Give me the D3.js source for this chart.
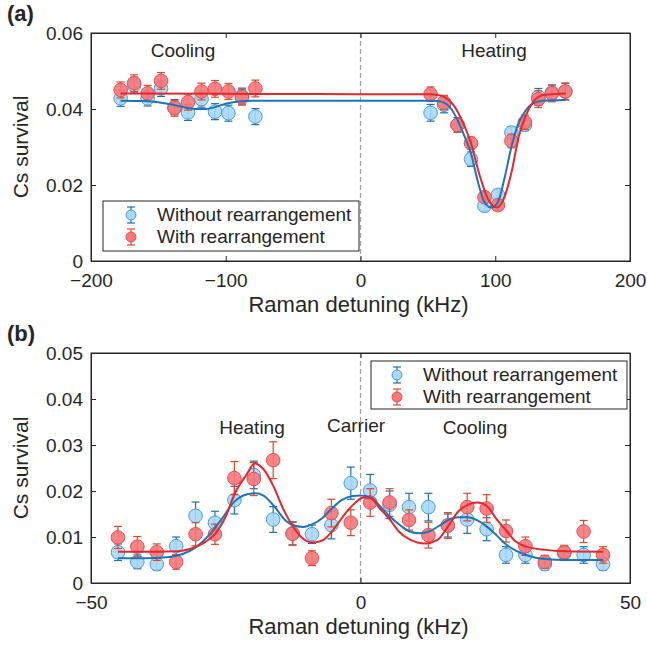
<!DOCTYPE html>
<html>
<head>
<meta charset="utf-8">
<script src="https://cdn.jsdelivr.net/npm/d3@7"></script>
<style>
  body { margin: 0; background: #fff; }
  svg text { font-family: "Liberation Sans", Arial, Helvetica, sans-serif; fill: #262626; }
</style>
</head>
<body>
<script>
// ---- panel (a) data ----
const aDetuning = [-178, -168, -158, -148, -138, -128, -118, -108, -98, -88, -78,
  52, 62, 72, 82, 92, 102, 112, 122, 132, 142, 152];
const aWithout = [0.0428, 0.0463, 0.0428, 0.0454, 0.0405, 0.0391, 0.0426, 0.0393, 0.0389, 0.0434, 0.0380,
  0.0390, 0.0411, 0.0358, 0.0268, 0.0145, 0.0174, 0.0338, 0.0358, 0.0432, 0.0443, 0.0446];
const aWithoutErr = [0.0021, 0.0021, 0.0020, 0.0021, 0.0020, 0.0021, 0.0021, 0.0021, 0.0021, 0.0021, 0.0021,
  0.0022, 0.0021, 0.0019, 0.0019, 0.0013, 0.0013, 0.0015, 0.0015, 0.0022, 0.0020, 0.0022];
const aWith = [0.0450, 0.0468, 0.0441, 0.0474, 0.0402, 0.0418, 0.0446, 0.0453, 0.0446, 0.0431, 0.0454,
  0.0439, 0.0417, 0.0358, 0.0310, 0.0168, 0.0147, 0.0316, 0.0365, 0.0426, 0.0441, 0.0446];
const aWithErr = [0.0021, 0.0022, 0.0021, 0.0022, 0.0021, 0.0021, 0.0022, 0.0022, 0.0021, 0.0021, 0.0022,
  0.0019, 0.0019, 0.0019, 0.0016, 0.0013, 0.0013, 0.0018, 0.0019, 0.0022, 0.0022, 0.0022];
// fit curves
const aFitWithoutX = [-178, -160, -150, -140, -130, -122, -115, -108, -100, -90, -80, -40, 0, 40, 52, 57, 62, 67, 72, 77, 82, 87, 92, 97, 102, 107, 112, 117, 122, 128, 135, 152];
const aFitWithoutY = [0.0422, 0.0421, 0.0418, 0.0412, 0.0404, 0.0400, 0.0400, 0.0405, 0.0414, 0.0420, 0.0422, 0.0422, 0.0422, 0.0422, 0.0422, 0.0421, 0.0417, 0.0402, 0.0371, 0.0330, 0.0283, 0.0210, 0.0155, 0.0141, 0.0155, 0.0220, 0.0300, 0.0360, 0.0393, 0.0415, 0.0422, 0.0424];
const aFitWithX = [-178, -100, 0, 52, 57, 62, 68.9, 76.3, 82, 88.7, 94.9, 101.1, 106, 112.4, 117.4, 122.3, 128.2, 135.7, 152.3];
const aFitWithY = [0.0441, 0.0440, 0.0439, 0.0439, 0.0437, 0.0432, 0.0411, 0.0362, 0.0310, 0.0222, 0.0161, 0.0141, 0.0161, 0.0239, 0.0327, 0.0380, 0.0419, 0.0437, 0.0441];
const aXTicks = [-200, -100, 0, 100, 200];
const aYTicks = [0, 0.02, 0.04, 0.06];

// ---- panel (b) data ----
const bDetuning = [-45, -41.4, -37.8, -34.2, -30.6, -27, -23.4, -19.8, -16.2, -12.6, -9, -5.4, -1.8,
  1.8, 5.4, 9, 12.6, 16.2, 19.8, 23.4, 27, 30.6, 34.2, 37.8, 41.4, 45];
const bWithout = [0.0067, 0.0046, 0.0041, 0.0080, 0.0146, 0.0131, 0.0180, 0.0235, 0.0138, 0.0108, 0.0106, 0.0126, 0.0217,
  0.0201, 0.0170, 0.0165, 0.0165, 0.0125, 0.0138, 0.0117, 0.0061, 0.0061, 0.0041, 0.0064, 0.0061, 0.0041];
const bWithoutErr = [0.0018, 0.0015, 0.0013, 0.0020, 0.0030, 0.0025, 0.0030, 0.0030, 0.0028, 0.0025, 0.0020, 0.0030, 0.0035,
  0.0035, 0.0030, 0.0030, 0.0030, 0.0025, 0.0030, 0.0025, 0.0018, 0.0018, 0.0013, 0.0015, 0.0018, 0.0013];
const bWith = [0.0099, 0.0079, 0.0067, 0.0046, 0.0106, 0.0106, 0.0228, 0.0226, 0.0267, 0.0107, 0.0054, 0.0152, 0.0131,
  0.0175, 0.0175, 0.0137, 0.0104, 0.0125, 0.0165, 0.0162, 0.0113, 0.0080, 0.0046, 0.0067, 0.0112, 0.0061];
const bWithErr = [0.0024, 0.0022, 0.0018, 0.0016, 0.0025, 0.0022, 0.0036, 0.0036, 0.0040, 0.0025, 0.0016, 0.0030, 0.0028,
  0.0030, 0.0030, 0.0022, 0.0028, 0.0028, 0.0030, 0.0030, 0.0024, 0.0020, 0.0014, 0.0015, 0.0024, 0.0018];
const bFitWithoutX = [-45, -40, -36, -33, -30.5, -28, -26, -23.3, -21, -19.5, -18, -16.1, -13.8, -12.6, -10.7, -8.9, -7, -5.3, -3.5, -1.5, 0, 1.9, 3.7, 5.5, 7.3, 9.1, 11, 12.7, 14.7, 16.3, 18.1, 19.9, 21.7, 23.5, 25.3, 27.1, 28.9, 30.7, 32.5, 34.3, 38, 45];
const bFitWithoutY = [0.0054, 0.0054, 0.0056, 0.0063, 0.0078, 0.0105, 0.0135, 0.0178, 0.0193, 0.0195, 0.0190, 0.0168, 0.0135, 0.0126, 0.0122, 0.0128, 0.0142, 0.0162, 0.0180, 0.0189, 0.0190, 0.0186, 0.0166, 0.0144, 0.0126, 0.0112, 0.0108, 0.0112, 0.0125, 0.0137, 0.0143, 0.0143, 0.0136, 0.0122, 0.0103, 0.0083, 0.0070, 0.0061, 0.0055, 0.0052, 0.0050, 0.0050];
const bFitWithX = [-45, -38, -34, -32, -30.5, -28.7, -26.9, -25, -23.3, -21, -19.7, -18.1, -16.1, -14.3, -12.6, -11, -8.9, -7, -5.3, -3.3, -1.7, 0.6, 1.9, 3.6, 5.5, 7.1, 9.1, 12, 14.2, 16.3, 18.1, 19.9, 21.7, 23.5, 25.1, 27.1, 28.8, 30.7, 34.3, 38, 45];
const bFitWithY = [0.0068, 0.0068, 0.0069, 0.0073, 0.0079, 0.0090, 0.0108, 0.0145, 0.0195, 0.0238, 0.0260, 0.0249, 0.0209, 0.0160, 0.0124, 0.0100, 0.0088, 0.0093, 0.0112, 0.0144, 0.0166, 0.0186, 0.0184, 0.0162, 0.0137, 0.0112, 0.0095, 0.0086, 0.0093, 0.0124, 0.0155, 0.0170, 0.0175, 0.0167, 0.0141, 0.0113, 0.0090, 0.0079, 0.0072, 0.0069, 0.0068];
const bXTicks = [-50, 0, 50];
const bYTicks = [0, 0.01, 0.02, 0.03, 0.04, 0.05];

const seriesNames = ["Without rearrangement", "With rearrangement"];

// colours
const blueLine = "#1a75bd", blueFill = "#a9d8f7", blueErr = "#1a6fb8";
const redLine = "#e8262b", redFill = "#f7777a", redErr = "#dd4a24";
const axisCol = "#262626";

const svg = d3.select("body").append("svg")
  .attr("width", 647).attr("height", 646);

function zip(xs, ys, es) {
  return xs.map((x, i) => ({ x, y: ys[i], e: es ? es[i] : 0 }));
}

function panel(opt) {
  const x = d3.scaleLinear().domain(opt.xDomain).range([opt.left, opt.left + opt.w]);
  const y = d3.scaleLinear().domain(opt.yDomain).range([opt.top + opt.h, opt.top]);
  const g = svg.append("g");

  // zero detuning marker
  g.append("line")
    .attr("x1", x(0)).attr("x2", x(0))
    .attr("y1", opt.top).attr("y2", opt.top + opt.h)
    .attr("stroke", "#a0a0a0").attr("stroke-width", 1.2)
    .attr("stroke-dasharray", "5,3");

  // axes (ticks inside, mirrored like a boxed matlab axis)
  g.append("g").attr("transform", `translate(0,${opt.top + opt.h})`)
    .call(d3.axisBottom(x).tickValues(opt.xTicks).tickSize(-5).tickPadding(13)
      .tickFormat(d => d3.format("")(d).replace("-", "\u2212")));
  g.append("g").attr("transform", `translate(${opt.left},0)`)
    .call(d3.axisLeft(y).tickValues(opt.yTicks).tickSize(-5).tickPadding(8)
      .tickFormat(d => d === 0 ? "0" : d3.format(".2f")(d)));
  g.append("g").attr("transform", `translate(0,${opt.top})`)
    .call(d3.axisTop(x).tickValues(opt.xTicks).tickSize(-5).tickFormat(""));
  g.append("g").attr("transform", `translate(${opt.left + opt.w},0)`)
    .call(d3.axisRight(y).tickValues(opt.yTicks).tickSize(-5).tickFormat(""));
  g.selectAll(".domain, .tick line").attr("stroke", axisCol).attr("stroke-width", 1);
  g.selectAll(".tick text").attr("font-size", 19).attr("fill", axisCol)
    .style("font-family", "'Liberation Sans', Arial, sans-serif");
  g.append("rect")
    .attr("x", opt.left).attr("y", opt.top).attr("width", opt.w).attr("height", opt.h)
    .attr("fill", "none").attr("stroke", axisCol).attr("stroke-width", 1);

  // axis titles
  g.append("text")
    .attr("x", opt.left + opt.w / 2 - 2).attr("y", opt.top + opt.h + 51)
    .attr("text-anchor", "middle").attr("font-size", 22)
    .text("Raman detuning (kHz)");
  g.append("text")
    .attr("transform", `translate(28,${opt.top + opt.h / 2}) rotate(-90)`)
    .attr("text-anchor", "middle").attr("font-size", 21)
    .text("Cs survival");
  g.append("text")
    .attr("x", 7).attr("y", opt.top - 12)
    .attr("font-size", 22).attr("font-weight", "bold")
    .text(opt.tag);

  // error bars + markers
  function drawSeries(data, fill, stroke, errCol) {
    const s = g.append("g");
    const cap = 4;
    const eb = s.selectAll("g.eb").data(data).enter().append("g");
    eb.append("line").attr("x1", d => x(d.x)).attr("x2", d => x(d.x))
      .attr("y1", d => y(d.y - d.e)).attr("y2", d => y(d.y + d.e));
    eb.append("line").attr("x1", d => x(d.x) - cap).attr("x2", d => x(d.x) + cap)
      .attr("y1", d => y(d.y - d.e)).attr("y2", d => y(d.y - d.e));
    eb.append("line").attr("x1", d => x(d.x) - cap).attr("x2", d => x(d.x) + cap)
      .attr("y1", d => y(d.y + d.e)).attr("y2", d => y(d.y + d.e));
    eb.selectAll("line").attr("stroke", errCol).attr("stroke-width", 1.2);
    s.selectAll("circle").data(data).enter().append("circle")
      .attr("cx", d => x(d.x)).attr("cy", d => y(d.y)).attr("r", 6.8)
      .attr("fill", fill).attr("fill-opacity", 0.9)
      .attr("stroke", stroke).attr("stroke-width", 1);
  }
  drawSeries(zip(opt.detuning, opt.without, opt.withoutErr), blueFill, "#4d9bd6", blueErr);
  drawSeries(zip(opt.detuning, opt.withR, opt.withErr), redFill, "#e05050", redErr);

  const line = d3.line().x(d => x(d.x)).y(d => y(d.y)).curve(d3.curveMonotoneX);
  g.append("path").datum(zip(opt.fitWithoutX, opt.fitWithoutY))
    .attr("d", line).attr("fill", "none").attr("stroke", blueLine).attr("stroke-width", 2);
  g.append("path").datum(zip(opt.fitWithX, opt.fitWithY))
    .attr("d", line).attr("fill", "none").attr("stroke", redLine).attr("stroke-width", 2);

  // annotations
  opt.labels.forEach(l => {
    g.append("text").attr("x", l.x).attr("y", l.y)
      .attr("text-anchor", "middle").attr("font-size", 19).text(l.t);
  });

  // legend
  const lg = g.append("g");
  lg.append("rect").attr("x", opt.leg.x).attr("y", opt.leg.y)
    .attr("width", opt.leg.w).attr("height", opt.leg.h)
    .attr("fill", "#fff").attr("stroke", axisCol).attr("stroke-width", 1);
  const legItems = [
    { name: seriesNames[0], fill: blueFill, stroke: "#4d9bd6", err: blueErr },
    { name: seriesNames[1], fill: redFill, stroke: "#e05050", err: redErr }
  ];
  legItems.forEach((it, i) => {
    const cy = opt.leg.y + 14 + i * 22;
    const mx = opt.leg.x + opt.leg.mx;
    lg.append("line").attr("x1", mx).attr("x2", mx).attr("y1", cy - 8).attr("y2", cy + 8)
      .attr("stroke", it.err).attr("stroke-width", 1.2);
    [cy - 8, cy + 8].forEach(yy => lg.append("line")
      .attr("x1", mx - 4).attr("x2", mx + 4).attr("y1", yy).attr("y2", yy)
      .attr("stroke", it.err).attr("stroke-width", 1.2));
    lg.append("circle").attr("cx", mx).attr("cy", cy).attr("r", 5)
      .attr("fill", it.fill).attr("stroke", it.stroke);
    lg.append("text").attr("x", opt.leg.x + opt.leg.tx).attr("y", cy + 6)
      .attr("font-size", 19).text(it.name);
  });
}

panel({
  tag: "(a)", left: 91, top: 33, w: 539, h: 228,
  xDomain: [-200, 200], yDomain: [0, 0.06], xTicks: aXTicks, yTicks: aYTicks,
  detuning: aDetuning, without: aWithout, withoutErr: aWithoutErr, withR: aWith, withErr: aWithErr,
  fitWithoutX: aFitWithoutX, fitWithoutY: aFitWithoutY, fitWithX: aFitWithX, fitWithY: aFitWithY,
  labels: [{ x: 183, y: 57, t: "Cooling" }, { x: 494, y: 57, t: "Heating" }],
  leg: { x: 103, y: 201, w: 256, h: 50, mx: 28, tx: 54 }
});

panel({
  tag: "(b)", left: 91, top: 353, w: 539, h: 230,
  xDomain: [-50, 50], yDomain: [0, 0.05], xTicks: bXTicks, yTicks: bYTicks,
  detuning: bDetuning, without: bWithout, withoutErr: bWithoutErr, withR: bWith, withErr: bWithErr,
  fitWithoutX: bFitWithoutX, fitWithoutY: bFitWithoutY, fitWithX: bFitWithX, fitWithY: bFitWithY,
  labels: [{ x: 252, y: 434, t: "Heating" }, { x: 356, y: 432, t: "Carrier" }, { x: 475, y: 434, t: "Cooling" }],
  leg: { x: 371, y: 361, w: 256, h: 48, mx: 26, tx: 52 }
});
</script>
</body>
</html>
